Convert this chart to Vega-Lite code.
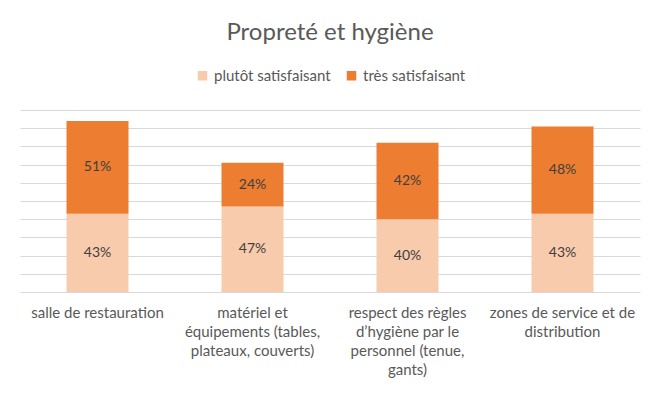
{
  "$schema": "https://vega.github.io/schema/vega-lite/v6.json",
  "width": 620,
  "height": 182,
  "padding": {"left": 20, "right": 20, "top": 21, "bottom": 5},
  "background": "white",
  "title": {
    "text": "Propreté et hygiène",
    "font": "Lato",
    "fontSize": 24,
    "fontWeight": "normal",
    "color": "#595959",
    "anchor": "middle",
    "offset": 23
  },
  "data": {
    "values": [
      {"cat": "salle de restauration", "serie": "plutôt satisfaisant", "v": 0.43, "lab": "43%"},
      {"cat": "salle de restauration", "serie": "très satisfaisant", "v": 0.51, "lab": "51%"},
      {"cat": "matériel et|équipements (tables,|plateaux, couverts)", "serie": "plutôt satisfaisant", "v": 0.47, "lab": "47%"},
      {"cat": "matériel et|équipements (tables,|plateaux, couverts)", "serie": "très satisfaisant", "v": 0.24, "lab": "24%"},
      {"cat": "respect des règles|d’hygiène par le|personnel (tenue,|gants)", "serie": "plutôt satisfaisant", "v": 0.40, "lab": "40%"},
      {"cat": "respect des règles|d’hygiène par le|personnel (tenue,|gants)", "serie": "très satisfaisant", "v": 0.42, "lab": "42%"},
      {"cat": "zones de service et de|distribution", "serie": "plutôt satisfaisant", "v": 0.43, "lab": "43%"},
      {"cat": "zones de service et de|distribution", "serie": "très satisfaisant", "v": 0.48, "lab": "48%"}
    ]
  },
  "encoding": {
    "x": {
      "field": "cat",
      "type": "nominal",
      "sort": null,
      "scale": {"paddingInner": 0.6, "paddingOuter": 0.3},
      "axis": {
        "title": null,
        "labelAngle": 0,
        "labelExpr": "split(datum.value, '|')",
        "labelFont": "Lato",
        "labelFontSize": 15,
        "labelColor": "#595959",
        "labelLineHeight": 19,
        "labelBaseline": "top",
        "labelPadding": 13,
        "labelLimit": 200,
        "ticks": false,
        "domainColor": "#D9D9D9",
        "domainWidth": 1,
        "grid": false
      }
    },
    "y": {
      "field": "v",
      "type": "quantitative",
      "stack": "zero",
      "scale": {"domain": [0, 1], "nice": false},
      "axis": {
        "title": null,
        "labels": false,
        "ticks": false,
        "domain": false,
        "grid": true,
        "gridColor": "#D9D9D9",
        "gridWidth": 1,
        "tickCount": 10,
        "values": [0.1, 0.2, 0.3, 0.4, 0.5, 0.6, 0.7, 0.8, 0.9, 1.0]
      }
    }
  },
  "layer": [
    {
      "mark": {"type": "bar"},
      "encoding": {
        "color": {
          "field": "serie",
          "type": "nominal",
          "scale": {"domain": ["plutôt satisfaisant", "très satisfaisant"], "range": ["#F8CBAD", "#ED7D31"]},
          "legend": {
            "title": null,
            "orient": "top",
            "direction": "horizontal",
            "symbolType": "square",
            "symbolSize": 90,
            "symbolStrokeWidth": 0,
            "labelFont": "Lato",
            "labelFontSize": 15,
            "labelColor": "#595959",
            "columnPadding": 13,
            "offset": 26
          }
        },
        "order": {"field": "serie", "sort": "ascending"}
      }
    },
    {
      "mark": {"type": "text", "font": "Lato", "fontSize": 14, "color": "#404040"},
      "encoding": {
        "y": {
          "field": "v",
          "type": "quantitative",
          "stack": "zero",
          "bandPosition": 0.5,
          "axis": {
            "title": null,
            "labels": false,
            "ticks": false,
            "domain": false,
            "grid": true,
            "gridColor": "#D9D9D9",
            "gridWidth": 1,
            "tickCount": 10,
            "values": [0.1, 0.2, 0.3, 0.4, 0.5, 0.6, 0.7, 0.8, 0.9, 1.0]
          }
        },
        "text": {"field": "lab"},
        "detail": {"field": "serie"},
        "order": {"field": "serie", "sort": "ascending"}
      }
    }
  ],
  "config": {
    "view": {"stroke": null},
    "legend": {"layout": {"top": {"anchor": "middle"}}}
  }
}
